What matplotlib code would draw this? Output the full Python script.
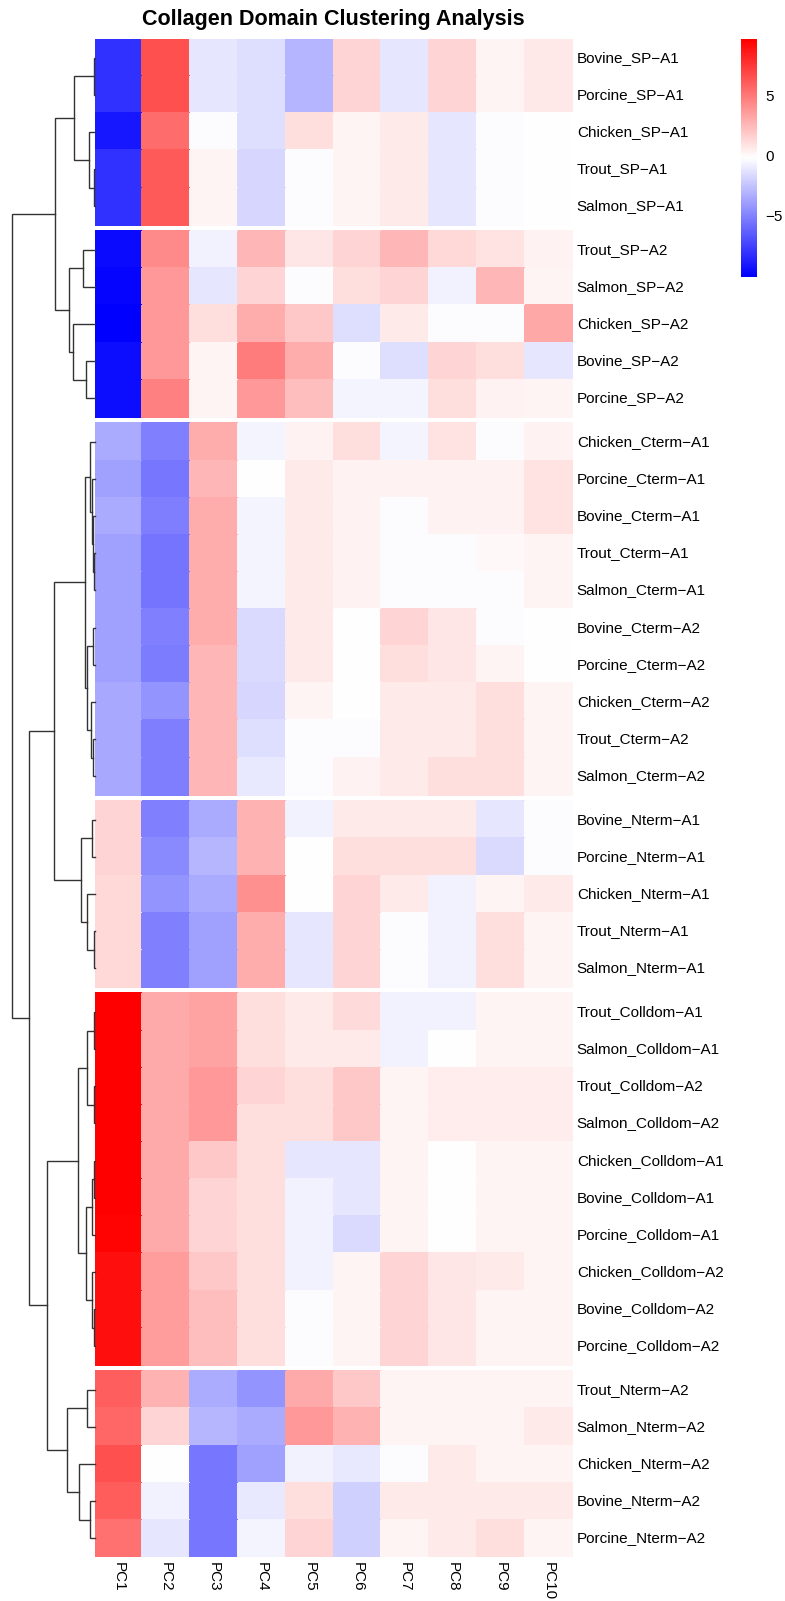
import numpy as np
import matplotlib.pyplot as plt
from matplotlib.colors import LinearSegmentedColormap

plt.rcParams['font.family'] = ['Liberation Sans', 'DejaVu Sans']

# column / row labels
col_labels = ['PC1', 'PC2', 'PC3', 'PC4', 'PC5', 'PC6', 'PC7', 'PC8', 'PC9', 'PC10']

sp_a1_labels = ['Bovine_SP-A1', 'Porcine_SP-A1', 'Chicken_SP-A1', 'Trout_SP-A1', 'Salmon_SP-A1']
sp_a2_labels = ['Trout_SP-A2', 'Salmon_SP-A2', 'Chicken_SP-A2', 'Bovine_SP-A2', 'Porcine_SP-A2']
cterm_labels = ['Chicken_Cterm-A1', 'Porcine_Cterm-A1', 'Bovine_Cterm-A1', 'Trout_Cterm-A1',
                'Salmon_Cterm-A1', 'Bovine_Cterm-A2', 'Porcine_Cterm-A2', 'Chicken_Cterm-A2',
                'Trout_Cterm-A2', 'Salmon_Cterm-A2']
nterm_a1_labels = ['Bovine_Nterm-A1', 'Porcine_Nterm-A1', 'Chicken_Nterm-A1', 'Trout_Nterm-A1',
                   'Salmon_Nterm-A1']
colldom_labels = ['Trout_Colldom-A1', 'Salmon_Colldom-A1', 'Trout_Colldom-A2', 'Salmon_Colldom-A2',
                  'Chicken_Colldom-A1', 'Bovine_Colldom-A1', 'Porcine_Colldom-A1',
                  'Chicken_Colldom-A2', 'Bovine_Colldom-A2', 'Porcine_Colldom-A2']
nterm_a2_labels = ['Trout_Nterm-A2', 'Salmon_Nterm-A2', 'Chicken_Nterm-A2', 'Bovine_Nterm-A2',
                   'Porcine_Nterm-A2']

# scores
sp_a1_vals = [
    [-8.2, 6.6, -1.2, -1.5, -3.1, 1.5, -1.2, 1.5, 0.2, 0.7],
    [-8.2, 6.6, -1.2, -1.5, -3.1, 1.5, -1.2, 1.5, 0.2, 0.7],
    [-9.2, 5.5, -0.3, -1.5, 1.1, 0.2, 0.6, -1.2, -0.3, -0.2],
    [-8.2, 6.2, 0.2, -1.8, -0.3, 0.2, 0.6, -1.2, -0.3, -0.2],
    [-8.2, 6.2, 0.2, -1.8, -0.3, 0.2, 0.6, -1.2, -0.3, -0.2],
]
sp_a2_vals = [
    [-9.7, 4.3, -0.7, 2.6, 0.75, 1.5, 2.6, 1.3, 0.9, 0.3],
    [-9.9, 3.8, -1.2, 1.5, -0.3, 1.1, 1.5, -0.7, 2.6, 0.2],
    [-10.1, 3.8, 1.1, 3.0, 1.9, -1.5, 0.65, -0.3, -0.3, 3.2],
    [-9.6, 3.8, 0.2, 4.9, 3.0, -0.3, -1.5, 1.5, 1.1, -1.2],
    [-9.6, 4.7, 0.2, 3.8, 2.3, -0.6, -0.6, 1.1, 0.3, 0.2],
]
cterm_vals = [
    [-3.5, -5.1, 3.0, -0.6, 0.3, 1.1, -0.6, 0.9, -0.3, 0.3],
    [-3.9, -5.5, 2.6, -0.2, 0.65, 0.3, 0.3, 0.3, 0.3, 0.9],
    [-3.5, -5.2, 3.0, -0.6, 0.65, 0.3, -0.3, 0.3, 0.3, 0.9],
    [-3.9, -5.6, 3.0, -0.6, 0.65, 0.3, -0.3, -0.3, 0.1, 0.2],
    [-3.9, -5.6, 3.0, -0.6, 0.65, 0.3, -0.3, -0.3, -0.3, 0.2],
    [-3.9, -5.1, 3.0, -1.6, 0.65, -0.2, 1.5, 0.75, -0.3, -0.2],
    [-3.9, -5.3, 2.6, -1.6, 0.65, -0.2, 1.1, 0.75, 0.2, -0.2],
    [-3.6, -4.3, 2.6, -1.8, 0.2, -0.2, 0.65, 0.65, 1.1, 0.2],
    [-3.6, -5.2, 2.6, -1.5, -0.3, -0.3, 0.65, 0.65, 1.1, 0.2],
    [-3.6, -5.2, 2.6, -1.1, -0.3, 0.3, 0.65, 1.1, 1.1, 0.2],
]
nterm_a1_vals = [
    [1.5, -5.1, -3.5, 2.8, -0.7, 0.65, 0.65, 0.65, -1.2, -0.3],
    [1.5, -4.7, -3.0, 2.8, -0.2, 1.1, 1.1, 1.1, -1.6, -0.3],
    [1.3, -4.3, -3.5, 4.1, -0.2, 1.5, 0.65, -0.7, 0.2, 0.65],
    [1.3, -5.1, -3.9, 3.0, -1.2, 1.5, -0.3, -0.7, 1.1, 0.2],
    [1.3, -5.1, -3.9, 3.0, -1.2, 1.5, -0.3, -0.7, 1.1, 0.2],
]
colldom_vals = [
    [9.7, 3.1, 3.4, 1.1, 0.65, 1.25, -0.7, -0.7, 0.2, 0.2],
    [9.7, 3.1, 3.4, 1.1, 0.65, 0.65, -0.7, -0.2, 0.2, 0.2],
    [9.7, 3.1, 3.8, 1.5, 1.1, 1.9, 0.2, 0.55, 0.55, 0.55],
    [9.7, 3.1, 3.8, 1.1, 1.1, 1.9, 0.2, 0.55, 0.55, 0.55],
    [9.7, 3.1, 1.9, 1.1, -1.2, -1.2, 0.2, -0.2, 0.2, 0.2],
    [9.7, 3.1, 1.5, 1.1, -0.7, -1.2, 0.2, -0.2, 0.2, 0.2],
    [9.6, 3.1, 1.5, 1.1, -0.7, -1.6, 0.2, -0.2, 0.2, 0.2],
    [9.1, 3.6, 1.9, 1.1, -0.7, 0.2, 1.5, 0.75, 0.65, 0.2],
    [9.1, 3.6, 2.3, 1.1, -0.3, 0.2, 1.5, 0.75, 0.2, 0.2],
    [9.1, 3.6, 2.3, 1.1, -0.3, 0.2, 1.5, 0.75, 0.2, 0.2],
]
nterm_a2_vals = [
    [6.0, 2.8, -3.4, -4.3, 3.1, 1.9, 0.2, 0.2, 0.2, 0.2],
    [5.7, 1.5, -3.0, -3.5, 3.8, 2.8, 0.2, 0.2, 0.2, 0.65],
    [6.6, -0.2, -5.5, -3.9, -0.7, -1.1, -0.3, 0.65, 0.2, 0.2],
    [6.1, -0.7, -5.5, -1.1, 1.1, -2.0, 0.65, 0.65, 0.65, 0.65],
    [5.3, -1.2, -5.5, -0.6, 1.5, -2.0, 0.2, 0.65, 1.1, 0.2],
]

# row dendrogram merges (left, right, height); leaves are 0..39 in display order
merges = [
    (0, 1, 0.4), (3, 4, 0.4), (2, 41, 6), (40, 42, 21),
    (5, 6, 12), (8, 9, 8.5), (7, 45, 22), (44, 46, 26), (43, 47, 39.5),
    (13, 14, 1), (12, 49, 2), (11, 50, 3), (10, 51, 4.5),
    (15, 16, 1.5), (18, 19, 2), (17, 54, 4), (53, 55, 8), (52, 56, 9.7),
    (20, 21, 3), (23, 24, 0.5), (22, 59, 7.5), (58, 60, 14), (57, 61, 41),
    (25, 26, 0.5), (27, 28, 0.5), (63, 64, 7.5), (29, 30, 0.5), (66, 31, 3),
    (33, 34, 0.5), (32, 68, 2.5), (67, 69, 9), (65, 70, 17),
    (35, 36, 8), (38, 39, 4.5), (37, 73, 15.7), (72, 74, 27.3), (71, 75, 47.5),
    (62, 76, 65.7), (48, 77, 83),
]

blocks = [(sp_a1_labels, sp_a1_vals), (sp_a2_labels, sp_a2_vals), (cterm_labels, cterm_vals),
          (nterm_a1_labels, nterm_a1_vals), (colldom_labels, colldom_vals),
          (nterm_a2_labels, nterm_a2_vals)]

vmin, vmax = -10.1, 9.7
cmap = LinearSegmentedColormap.from_list('bwr_ph', ['#0000FF', '#FFFFFF', '#FF0000'], N=256)

W, H = 785, 1601
fig = plt.figure(figsize=(W / 100, H / 100), dpi=100)


def px_box(x0, y0, x1, y1):
    return [x0 / W, 1 - y1 / H, (x1 - x0) / W, (y1 - y0) / H]


gap = 0.175
ax = fig.add_axes(px_box(94.5, 39, 572.5, 1557))
row_centres = []
top = 0.0
for labels, vals in blocks:
    arr = np.array(vals)
    n = arr.shape[0]
    ax.pcolormesh(np.arange(11), top + np.arange(n + 1), arr, cmap=cmap,
                  vmin=vmin, vmax=vmax, edgecolors='face', linewidth=0.2)
    for i, lab in enumerate(labels):
        yc = top + i + 0.5
        row_centres.append(yc)
        ax.text(10.09, yc, lab.replace('-', '\u2212'), ha='left', va='center', fontsize=11)
    top += n + gap
total = top - gap
ax.set_xlim(0, 10)
ax.set_ylim(total, 0)
ax.axis('off')
for j, c in enumerate(col_labels):
    ax.text(j + 0.5, total + 0.13, c, rotation=270, ha='center', va='top', fontsize=11)

# dendrogram
dax = fig.add_axes(px_box(11.7, 39, 94.5, 1557))
pos = {i: (0.0, y) for i, y in enumerate(row_centres)}
node = len(row_centres)
for a, b, h in merges:
    ha_, ya = pos[a]
    hb, yb = pos[b]
    dax.plot([ha_, h, h, hb], [ya, ya, yb, yb], color='#333333', lw=1.0,
             solid_joinstyle='miter', clip_on=False)
    pos[node] = (h, (ya + yb) / 2)
    node += 1
dax.set_xlim(83, 0)
dax.set_ylim(total, 0)
dax.axis('off')

fig.text(333.5 / W, 1 - 20 / H, 'Collagen Domain Clustering Analysis', ha='center', va='center',
         fontsize=15.5, fontweight='bold')

# colour legend
cax = fig.add_axes(px_box(740.7, 39.3, 756.7, 276.7))
grad = np.linspace(vmax, vmin, 300)[:, None]
cax.imshow(grad, aspect='auto', cmap=cmap, vmin=vmin, vmax=vmax, extent=(0, 1, vmin, vmax))
cax.set_xticks([])
cax.yaxis.tick_right()
cax.set_yticks([-5, 0, 5])
cax.set_yticklabels(['\u22125', '0', '5'], fontsize=11)
cax.tick_params(axis='y', length=0, pad=6)
for s in cax.spines.values():
    s.set_visible(False)

fig.savefig('out.png', dpi=100)
